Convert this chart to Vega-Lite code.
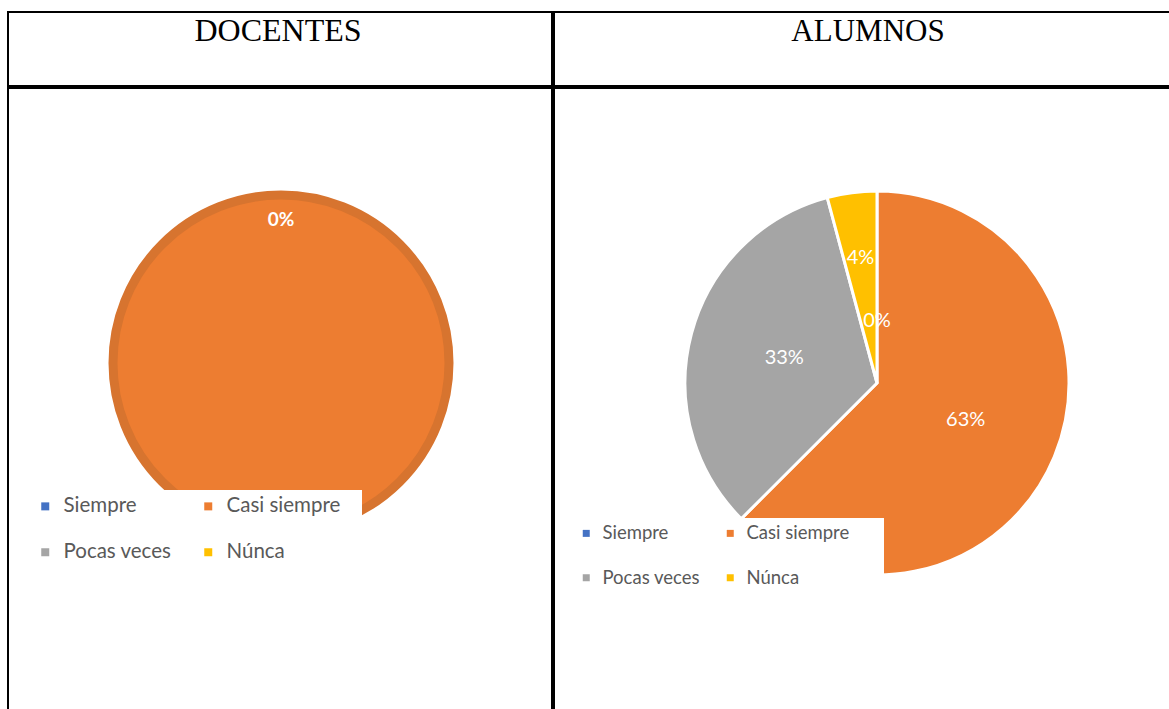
{
  "$schema": "https://vega.github.io/schema/vega-lite/v6.json",
  "background": "white",
  "padding": {"left": 7, "top": 11, "right": 0, "bottom": 0},
  "config": {
    "view": {"stroke": "black", "strokeWidth": 2},
    "style": {"view": {"stroke": "black", "strokeWidth": 2}},
    "concat": {"spacing": 0}
  },
  "spacing": 0,
  "vconcat": [
    {
      "spacing": 0,
      "hconcat": [
        {
          "width": 544,
          "height": 74,
          "view": {"stroke": "black", "strokeWidth": 2},
          "data": {"values": [{"titulo": "DOCENTES"}]},
          "mark": {"type": "text", "font": "Liberation Serif", "fontSize": 32, "baseline": "alphabetic", "dy": -8, "dx": -2, "color": "black"},
          "encoding": {"text": {"field": "titulo"}}
        },
        {
          "width": 620,
          "height": 74,
          "view": {"stroke": "black", "strokeWidth": 2},
          "data": {"values": [{"titulo": "ALUMNOS"}]},
          "mark": {"type": "text", "font": "Liberation Serif", "fontSize": 31, "baseline": "alphabetic", "dy": -8, "dx": 4, "color": "black"},
          "encoding": {"text": {"field": "titulo"}}
        }
      ]
    },
    {
      "spacing": 0,
      "resolve": {"legend": {"color": "independent"}, "scale": {"color": "independent", "theta": "independent"}},
      "hconcat": [
        {
          "width": 544,
          "height": 626,
          "view": {"stroke": "black", "strokeWidth": 2},
          "data": {"values": [
            {"categoria": "Siempre", "orden": 1, "pct": 0},
            {"categoria": "Casi siempre", "orden": 2, "pct": 1},
            {"categoria": "Pocas veces", "orden": 3, "pct": 0},
            {"categoria": "Núnca", "orden": 4, "pct": 0}
          ]},
          "layer": [
            {
              "transform": [{"filter": "datum.pct > 0"}],
              "mark": {"type": "arc", "radius": 168, "stroke": "#d7742f", "strokeWidth": 9, "xOffset": 1, "yOffset": -38},
              "encoding": {
                "theta": {"field": "pct", "type": "quantitative", "stack": true},
                "order": {"field": "orden", "type": "quantitative"},
                "color": {
                  "field": "categoria", "type": "nominal",
                  "scale": {"domain": ["Siempre", "Casi siempre", "Pocas veces", "Núnca"], "range": ["#4472c4", "#ed7d31", "#a5a5a5", "#ffc000"]},
                  "legend": {
                    "title": null, "orient": "none", "legendX": 21, "legendY": 402,
                    "columns": 2, "direction": "horizontal", "symbolType": "square", "symbolSize": 64, "symbolStrokeWidth": 0,
                    "labelFont": "Lato", "labelFontSize": 20.5, "labelColor": "#595959", "labelOffset": 8,
                    "fillColor": "white", "padding": 6, "rowPadding": 25, "columnPadding": 26,
                    "labelExpr": "datum.label == 'Casi siempre' ? datum.label + '\u2800' : datum.label"
                  }
                }
              }
            },
            {
              "mark": {"type": "text", "radius": 143.5, "font": "Lato", "fontWeight": "bold", "fontSize": 19, "color": "white", "xOffset": 1, "yOffset": -38},
              "encoding": {
                "theta": {"field": "pct", "type": "quantitative", "stack": true},
                "order": {"field": "orden", "type": "quantitative"},
                "text": {"condition": {"test": "datum.categoria === 'Siempre'", "field": "pct", "type": "quantitative", "format": ".0%"}, "value": ""}
              }
            }
          ]
        },
        {
          "width": 620,
          "height": 626,
          "view": {"stroke": "black", "strokeWidth": 2},
          "data": {"values": [
            {"categoria": "Siempre", "orden": 1, "pct": 0},
            {"categoria": "Casi siempre", "orden": 2, "pct": 0.625},
            {"categoria": "Pocas veces", "orden": 3, "pct": 0.3333},
            {"categoria": "Núnca", "orden": 4, "pct": 0.0417}
          ]},
          "layer": [
            {
              "transform": [{"filter": "datum.pct > 0"}],
              "mark": {"type": "arc", "radius": 192, "stroke": "white", "strokeWidth": 3, "xOffset": 13, "yOffset": -18},
              "encoding": {
                "theta": {"field": "pct", "type": "quantitative", "stack": true},
                "order": {"field": "orden", "type": "quantitative"},
                "color": {
                  "field": "categoria", "type": "nominal",
                  "scale": {"domain": ["Siempre", "Casi siempre", "Pocas veces", "Núnca"], "range": ["#4472c4", "#ed7d31", "#a5a5a5", "#ffc000"]},
                  "legend": {
                    "title": null, "orient": "none", "legendX": 17, "legendY": 430,
                    "columns": 2, "direction": "horizontal", "symbolType": "square", "symbolSize": 49, "symbolStrokeWidth": 0,
                    "labelFont": "Lato", "labelFontSize": 18.5, "labelColor": "#595959", "labelOffset": 7,
                    "fillColor": "white", "padding": 6, "rowPadding": 25.5, "columnPadding": 21,
                    "labelExpr": "datum.label == 'Casi siempre' ? datum.label + '\u2800\u2800' : datum.label"
                  }
                }
              }
            },
            {
              "mark": {"type": "text", "radius": 96, "font": "Lato", "fontSize": 20, "color": "white", "xOffset": 13, "yOffset": -18},
              "encoding": {
                "theta": {"field": "pct", "type": "quantitative", "stack": true},
                "order": {"field": "orden", "type": "quantitative"},
                "text": {"condition": {"test": "datum.categoria === 'Casi siempre' || datum.categoria === 'Pocas veces'", "field": "pct", "type": "quantitative", "format": ".0%"}, "value": ""}
              }
            },
            {
              "mark": {"type": "text", "radius": 126.5, "font": "Lato", "fontSize": 20, "color": "white", "xOffset": 13, "yOffset": -18},
              "encoding": {
                "theta": {"field": "pct", "type": "quantitative", "stack": true},
                "order": {"field": "orden", "type": "quantitative"},
                "text": {"condition": {"test": "datum.categoria === 'Núnca'", "field": "pct", "type": "quantitative", "format": ".0%"}, "value": ""}
              }
            },
            {
              "mark": {"type": "text", "radius": 62.5, "font": "Lato", "fontSize": 20, "color": "white", "xOffset": 13, "yOffset": -18},
              "encoding": {
                "theta": {"field": "pct", "type": "quantitative", "stack": true},
                "order": {"field": "orden", "type": "quantitative"},
                "text": {"condition": {"test": "datum.categoria === 'Siempre'", "field": "pct", "type": "quantitative", "format": ".0%"}, "value": ""}
              }
            }
          ]
        }
      ]
    }
  ]
}
